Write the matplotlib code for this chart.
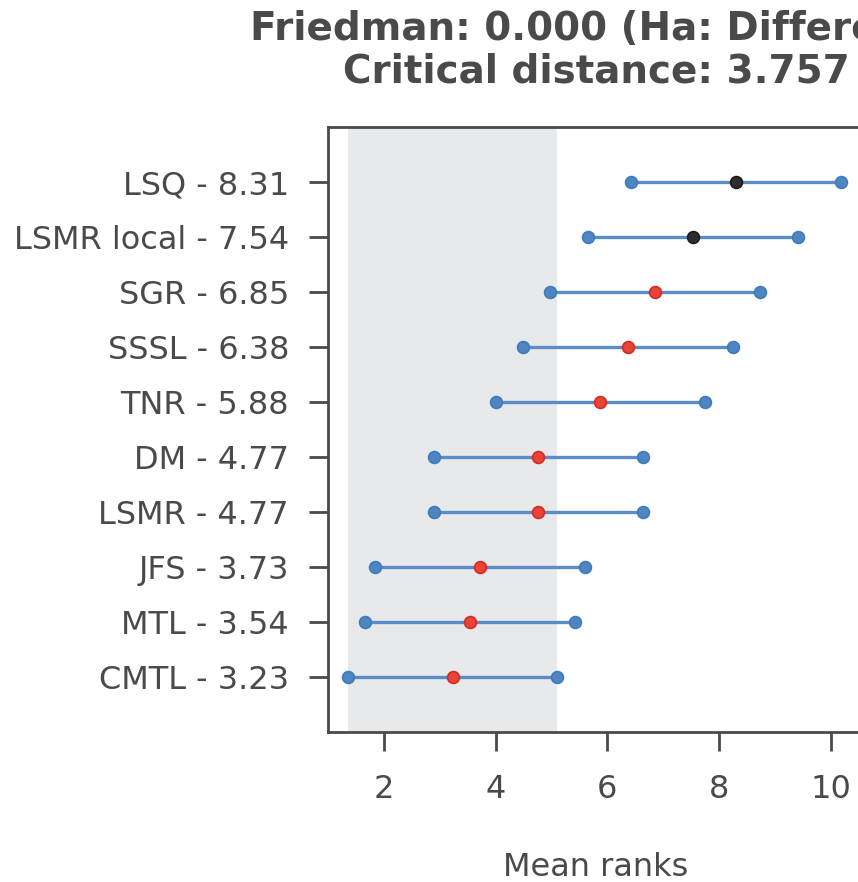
import matplotlib
matplotlib.use("Agg")
import matplotlib.pyplot as plt

# data: mean ranks, interval ends (mean +/- CD/2)
methods = ["LSQ", "LSMR local", "SGR", "SSSL", "TNR", "DM", "LSMR", "JFS", "MTL", "CMTL"]
mean_ranks = [8.31, 7.54, 6.85, 6.38, 5.88, 4.77, 4.77, 3.73, 3.54, 3.23]
lows = [6.43, 5.66, 4.97, 4.50, 4.00, 2.89, 2.89, 1.85, 1.66, 1.35]
highs = [10.19, 9.42, 8.73, 8.26, 7.76, 6.65, 6.65, 5.61, 5.42, 5.11]
band = (1.35, 5.11)
title = "Friedman: 0.000 (Ha: Different)\nCritical distance: 3.757"

txt = "#4a4a4a"
plt.rcParams["font.family"] = ["DejaVu Sans"]
plt.rcParams["text.color"] = txt
plt.rcParams["axes.labelcolor"] = txt
plt.rcParams["xtick.color"] = txt
plt.rcParams["ytick.color"] = txt

fig = plt.figure(figsize=(8.58, 8.82), dpi=100)
# axes run past the right edge of the figure, like the reference crop
ax = fig.add_axes([328 / 858, 1 - 732 / 882, (864 - 328) / 858, (732 - 127) / 882])

n = len(methods)
ypos = list(range(n - 1, -1, -1))

ax.axvspan(band[0], band[1], color="#e8e9eb", zorder=0, lw=0)

for y, m, lo, hi in zip(ypos, mean_ranks, lows, highs):
    ax.plot([lo, hi], [y, y], color="#5a8dc8", lw=2.4, zorder=2)
    ax.plot([lo, hi], [y, y], "o", color="#4f86c2", ms=8.5, mec="#3c7bbd", mew=1.2, zorder=3)
    # overlaps the best method's interval -> red, else black
    if lo <= band[1]:
        fc, ec = "#e8443a", "#d52a21"
    else:
        fc, ec = "#2e2e2e", "#1a1a1a"
    ax.plot([m], [y], "o", color=fc, ms=8.5, mec=ec, mew=1.2, zorder=4)

ax.set_ylim(-1, n)
ax.set_xlim(1.0, 10.6)
ax.set_yticks(ypos)
ax.set_yticklabels([f"{a} - {b:.2f}" for a, b in zip(methods, mean_ranks)])
ax.set_xticks([2, 4, 6, 8, 10])

for s in ax.spines.values():
    s.set_color(txt)
    s.set_linewidth(2)
ax.tick_params(axis="both", length=14, width=2, labelsize=23)
ax.tick_params(axis="y", pad=14)
ax.tick_params(axis="x", pad=16)
ax.set_xlabel("Mean ranks", fontsize=23, labelpad=34)
ax.set_title(title, fontsize=28, fontweight="bold", pad=32, linespacing=1.15)

fig.savefig("out.png", dpi=100)
